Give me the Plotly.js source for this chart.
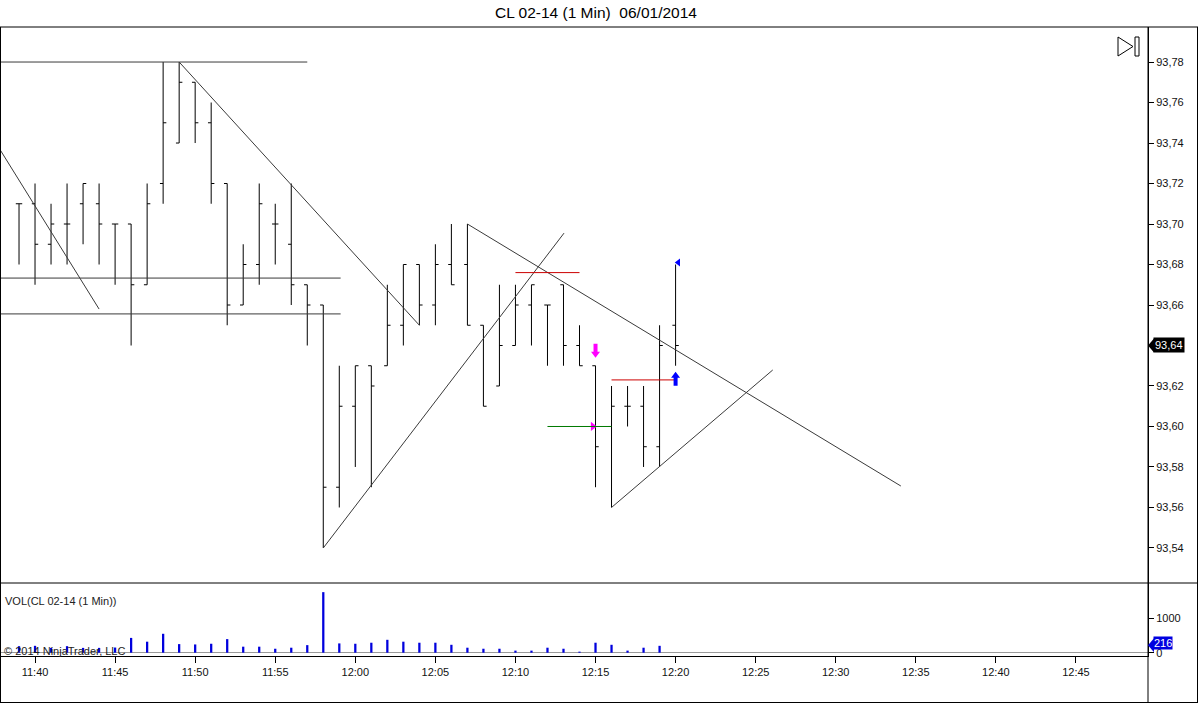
<!DOCTYPE html>
<html>
<head>
<meta charset="utf-8">
<script src="https://cdn.plot.ly/plotly-3.0.1.min.js"></script>
<style>
html, body { margin: 0; padding: 0; background: #fff; }
#chart { width: 1198px; height: 703px; }
</style>
</head>
<body>
<div id="chart"></div>
<script>
// CL 02-14, 1 minute bars, 06/01/2014
const day = '2014-01-06 ';
const times = ['11:39','11:40','11:41','11:42','11:43','11:44','11:45','11:46','11:47','11:48',
               '11:49','11:50','11:51','11:52','11:53','11:54','11:55','11:56','11:57','11:58',
               '11:59','12:00','12:01','12:02','12:03','12:04','12:05','12:06','12:07','12:08',
               '12:09','12:10','12:11','12:12','12:13','12:14','12:15','12:16','12:17','12:18',
               '12:19','12:20'];
const opens  = [93.71,93.71,93.69,93.70,93.71,93.71,93.70,93.70,93.67,93.72,
                93.74,93.77,93.75,93.72,93.66,93.68,93.70,93.69,93.67,93.66,
                93.57,93.61,93.63,93.63,93.65,93.68,93.66,93.68,93.68,93.65,
                93.62,93.64,93.66,93.66,93.67,93.64,93.63,93.60,93.61,93.61,
                93.59,93.65];
const highs  = [93.71,93.72,93.71,93.72,93.72,93.72,93.70,93.70,93.72,93.78,
                93.78,93.77,93.76,93.72,93.69,93.72,93.71,93.72,93.67,93.66,
                93.63,93.63,93.63,93.67,93.68,93.68,93.69,93.70,93.70,93.65,
                93.67,93.67,93.67,93.66,93.67,93.65,93.63,93.62,93.62,93.62,
                93.65,93.68];
const lows   = [93.68,93.67,93.68,93.68,93.69,93.68,93.67,93.64,93.67,93.71,
                93.74,93.74,93.71,93.65,93.66,93.67,93.68,93.66,93.64,93.54,
                93.56,93.58,93.57,93.63,93.64,93.65,93.65,93.67,93.65,93.61,
                93.62,93.64,93.64,93.63,93.63,93.63,93.57,93.56,93.60,93.58,
                93.58,93.63];
const closes = [93.71,93.69,93.70,93.70,93.72,93.70,93.70,93.67,93.71,93.75,
                93.77,93.75,93.72,93.66,93.68,93.71,93.70,93.67,93.66,93.57,
                93.61,93.63,93.62,93.65,93.68,93.66,93.68,93.67,93.65,93.61,
                93.64,93.66,93.67,93.66,93.64,93.63,93.59,93.61,93.61,93.59,
                93.64,93.64];
const volumes = [190,200,140,190,140,140,150,430,320,550,
                 250,240,260,395,175,175,115,145,220,1760,
                 270,260,290,375,320,290,290,230,145,115,
                 115,60,60,145,115,30,290,230,60,145,
                 200,216];

// drawings: [startTime, startPrice, endTime, endPrice]
const trendLines = [
  ['11:37:50', 93.7800, '11:57:00', 93.7800],
  ['11:37:50', 93.7365, '11:44:00', 93.6580],
  ['11:37:50', 93.6733, '11:59:05', 93.6733],
  ['11:37:50', 93.6556, '11:59:05', 93.6556],
  ['11:49:00', 93.7800, '12:04:00', 93.6500],
  ['11:58:00', 93.5400, '12:13:02', 93.6955],
  ['12:07:00', 93.7000, '12:34:04', 93.5706],
  ['12:16:00', 93.5600, '12:26:04', 93.6279]
];
// [startTime, endTime, price]
const stopLines  = [['12:10:00', '12:14:00', 93.676], ['12:16:00', '12:20:00', 93.623]];
const entryLines = [['12:12:00', '12:16:00', 93.600]];
const downArrowTimes = ['12:15:00'];
const downArrowPrices = [93.634];
const upArrowTimes = ['12:20:00'];
const upArrowPrices = [93.627];
const entryMarkTimes = ['12:14:50'];
const entryMarkPrices = [93.600];
const exitMarkTimes = ['12:20:10'];
const exitMarkPrices = [93.681];

const priceTicks = [93.54,93.56,93.58,93.60,93.62,93.64,93.66,93.68,93.70,93.72,93.74,93.76,93.78];
const volumeTicks = [0, 1000];

const t = s => day + s;
const lastPrice = closes[closes.length - 1];
const lastVolume = volumes[volumes.length - 1];

// plot area in pixels
const L = 1, R = 1148, T = 27, B = 656, SEP = 583;
const px = x => (x - L) / (R - L);
const py = y => (B - y) / (B - T);
const priceDomain = [py(SEP), 1];
const volDomain = [0, py(SEP)];
const priceRange = [93.5227, 93.7973];
const volRange = [-96, 2026];
const onPrice = p => priceDomain[0] + (p - priceRange[0]) / (priceRange[1] - priceRange[0]) * (priceDomain[1] - priceDomain[0]);
const onVol = v => volDomain[0] + (v - volRange[0]) / (volRange[1] - volRange[0]) * (volDomain[1] - volDomain[0]);

const bars = {
  type: 'ohlc',
  x: times.map(t), open: opens, high: highs, low: lows, close: closes,
  xaxis: 'x', yaxis: 'y',
  tickwidth: 0.2,
  increasing: {line: {color: '#000', width: 1}},
  decreasing: {line: {color: '#000', width: 1}},
  hoverinfo: 'skip', showlegend: false
};

// last (running) bar volume is shown only as the badge
const vol = {
  type: 'bar',
  x: times.slice(0, -1).map(t), y: volumes.slice(0, -1),
  xaxis: 'x', yaxis: 'y2',
  width: 8500,
  marker: {color: '#0000dd', line: {width: 0}},
  hoverinfo: 'skip', showlegend: false
};

const entryMarks = {
  type: 'scatter', mode: 'markers',
  x: entryMarkTimes.map(t), y: entryMarkPrices,
  xaxis: 'x', yaxis: 'y',
  marker: {symbol: 'triangle-right', size: 8, color: '#ff00ff', line: {width: 0}},
  hoverinfo: 'skip', showlegend: false
};
const exitMarks = {
  type: 'scatter', mode: 'markers',
  x: exitMarkTimes.map(t), y: exitMarkPrices,
  xaxis: 'x', yaxis: 'y',
  marker: {symbol: 'triangle-left', size: 7, color: '#0000ff', line: {width: 0}},
  hoverinfo: 'skip', showlegend: false
};

const shapes = [];
trendLines.forEach(d => shapes.push({
  type: 'line', xref: 'x', yref: 'y',
  x0: t(d[0]), y0: d[1], x1: t(d[2]), y1: d[3],
  line: {color: '#3a3a3a', width: 1}
}));
stopLines.forEach(d => shapes.push({
  type: 'line', xref: 'x', yref: 'y',
  x0: t(d[0]), y0: d[2], x1: t(d[1]), y1: d[2],
  line: {color: '#cc0000', width: 1}
}));
entryLines.forEach(d => shapes.push({
  type: 'line', xref: 'x', yref: 'y',
  x0: t(d[0]), y0: d[2], x1: t(d[1]), y1: d[2],
  line: {color: '#007a00', width: 1}
}));

// block arrows, tip at the anchor point (pixel paths)
const arrowDown = 'M0,0 L-4.5,6 L-2,6 L-2,14 L2,14 L2,6 L4.5,6 Z';
const arrowUp   = 'M0,0 L-4.5,-6 L-2,-6 L-2,-14 L2,-14 L2,-6 L4.5,-6 Z';
const arrowShape = (time, price, path, color) => ({
  type: 'path', xref: 'x', yref: 'y',
  xsizemode: 'pixel', ysizemode: 'pixel',
  xanchor: t(time), yanchor: price,
  path: path, fillcolor: color, line: {width: 0}
});
downArrowTimes.forEach((d, i) => shapes.push(arrowShape(d, downArrowPrices[i], arrowDown, '#ff00ff')));
upArrowTimes.forEach((d, i) => shapes.push(arrowShape(d, upArrowPrices[i], arrowUp, '#0000ff')));

// frame
const frame = (x0, y0, x1, y1) => ({
  type: 'line', xref: 'paper', yref: 'paper',
  x0: px(x0), y0: py(y0), x1: px(x1), y1: py(y1),
  line: {color: '#000', width: 1}
});
shapes.push(frame(0, 27, 1198, 27));
shapes.push(frame(0, SEP, 1198, SEP));
shapes.push(frame(0.5, 27, 0.5, 703));
shapes.push(frame(1148, 27, 1148, 703));
shapes.push(frame(1197.5, 27, 1197.5, 703));
shapes.push(frame(0, 702.5, 1198, 702.5));

// "go to last bar" button
shapes.push({
  type: 'path', xref: 'paper', yref: 'paper',
  path: 'M' + px(1118) + ',' + py(37) + ' L' + px(1118) + ',' + py(56) +
        ' L' + px(1133) + ',' + py(46.5) + ' Z',
  line: {color: '#000', width: 1}, fillcolor: 'rgba(0,0,0,0)'
});
shapes.push({
  type: 'rect', xref: 'paper', yref: 'paper',
  x0: px(1135), x1: px(1139), y0: py(37), y1: py(56),
  line: {color: '#000', width: 1}, fillcolor: 'rgba(0,0,0,0)'
});

// badge pointers
const pointer = (yPaper, color) => ({
  type: 'path', xref: 'paper', yref: 'paper',
  xsizemode: 'pixel', ysizemode: 'pixel',
  xanchor: px(1148), yanchor: yPaper,
  path: 'M0,0 L6,-7 L6,7 Z',
  fillcolor: color, line: {width: 0}
});
shapes.push(pointer(onPrice(lastPrice), '#000'));
shapes.push(pointer(onVol(lastVolume), '#0000e0'));

const font = '"Liberation Sans", Arial, sans-serif';
const annotations = [
  {xref: 'paper', yref: 'paper', x: px(3), y: py(601), xanchor: 'left', yanchor: 'middle',
   text: 'VOL(CL 02-14 (1 Min))', showarrow: false, font: {size: 11, color: '#222'}},
  {xref: 'paper', yref: 'paper', x: px(2), y: py(651), xanchor: 'left', yanchor: 'middle',
   text: '© 2014 NinjaTrader, LLC', showarrow: false, font: {size: 11, color: '#222'}},
  {xref: 'paper', yref: 'paper', x: px(1153), y: onPrice(lastPrice), xanchor: 'left', yanchor: 'middle',
   text: String(lastPrice.toFixed(2)).replace('.', ','), showarrow: false,
   bgcolor: '#000', borderpad: 1, font: {size: 11, color: '#fff'}},
  {xref: 'paper', yref: 'paper', x: px(1153), y: onVol(lastVolume) + 0.004, xanchor: 'left', yanchor: 'middle',
   text: String(lastVolume), showarrow: false,
   bgcolor: '#0000e0', borderpad: 0, font: {size: 11, color: '#fff'}}
];

const layout = {
  width: 1198, height: 703,
  margin: {l: L, r: 1198 - R, t: T, b: 703 - B, pad: 0},
  paper_bgcolor: '#fff', plot_bgcolor: '#fff',
  separators: ',.',
  showlegend: false,
  font: {family: font, size: 11, color: '#000'},
  title: {
    text: 'CL 02-14 (1 Min)&nbsp; 06/01/2014',
    font: {family: font, size: 15.5, color: '#000'},
    xref: 'container', x: 596 / 1198, xanchor: 'center',
    yref: 'container', y: 1 - 13 / 703, yanchor: 'middle'
  },
  xaxis: {
    type: 'date', anchor: 'y2',
    range: [t('11:37:52.5'), t('12:49:30')],
    tick0: t('11:40'), dtick: 300000, tickformat: '%H:%M',
    ticks: 'outside', ticklen: 6, tickcolor: '#000',
    showline: true, linecolor: '#000', linewidth: 1,
    showgrid: false, zeroline: false,
    rangeslider: {visible: false},
    tickfont: {size: 11, color: '#111'}
  },
  yaxis: {
    domain: priceDomain, range: priceRange, anchor: 'x', side: 'right',
    tickvals: priceTicks, tickformat: '.2f',
    ticks: 'outside', ticklen: 5, tickcolor: '#000',
    showline: true, linecolor: '#000', showgrid: false, zeroline: false,
    tickfont: {size: 11, color: '#111'}
  },
  yaxis2: {
    domain: volDomain, range: volRange, anchor: 'x', side: 'right',
    tickvals: volumeTicks, tickformat: 'd',
    ticks: 'outside', ticklen: 5, tickcolor: '#000',
    showline: true, linecolor: '#000', showgrid: false,
    zeroline: true, zerolinecolor: '#9a9a9a', zerolinewidth: 1,
    tickfont: {size: 11, color: '#111'}
  },
  shapes: shapes,
  annotations: annotations
};

Plotly.newPlot('chart', [vol, bars, entryMarks, exitMarks], layout, {staticPlot: true, displayModeBar: false});
</script>
</body>
</html>
